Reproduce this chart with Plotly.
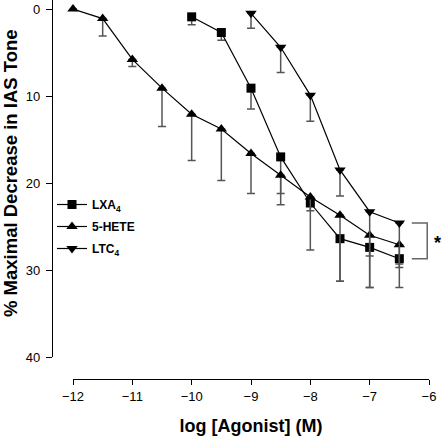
import plotly.graph_objects as go

# ---- data ----
x_lxa4 = [-10, -9.5, -9, -8.5, -8, -7.5, -7, -6.5]
y_lxa4 = [0.9, 2.7, 9.1, 17.0, 22.3, 26.4, 27.4, 28.7]
e_lxa4 = [0.9, 0.9, 2.4, 4.2, 5.4, 4.9, 4.6, 3.3]

x_hete = [-12, -11.5, -11, -10.5, -10, -9.5, -9, -8.5, -8, -7.5, -7, -6.5]
y_hete = [0.0, 1.1, 5.8, 9.1, 12.1, 13.8, 16.6, 19.1, 21.6, 23.7, 26.0, 27.1]
e_hete = [0.0, 2.0, 0.8, 4.4, 5.3, 5.9, 4.6, 3.4, 1.6, 7.6, 6.0, 2.2]

x_ltc4 = [-9, -8.5, -8, -7.5, -7, -6.5]
y_ltc4 = [0.5, 4.4, 9.9, 18.5, 23.3, 24.6]
e_ltc4 = [1.7, 2.9, 3.0, 3.0, 5.1, 5.1]

x_ticks = [-12, -11, -10, -9, -8, -7, -6]
y_ticks = [0, 10, 20, 30, 40]

FONT = "Arial, Liberation Sans, sans-serif"

def trace(x, y, e, name, symbol, size, group):
    return go.Scatter(
        x=x, y=y, name=name, mode="lines+markers",
        legendgroup=group,
        line=dict(color="black", width=1.2),
        marker=dict(symbol=symbol, size=size, color="black"),
        error_y=dict(type="data", symmetric=False, array=e,
                     arrayminus=[0] * len(e), color="#555555",
                     thickness=1.5, width=4),
        cliponaxis=False,
    )

fig = go.Figure()
fig.add_trace(trace(x_lxa4, y_lxa4, e_lxa4, "<b>LXA<sub>4</sub></b>", "square", 9, "a"))
fig.add_trace(trace(x_hete, y_hete, e_hete, "<b>5-HETE</b>", "triangle-up", 10, "b"))
fig.add_trace(trace(x_ltc4, y_ltc4, e_ltc4, "<b>LTC<sub>4</sub></b>", "triangle-down", 10, "c"))

# significance bracket between LTC4 and LXA4 at highest dose
fig.add_shape(type="path",
              path="M -6.29 24.6 L -6.03 24.6 L -6.03 28.7 L -6.29 28.7",
              xref="x", yref="y", line=dict(color="#666666", width=1.5))
fig.add_annotation(x=1.023, y=(379 - 243) / 379, xref="paper", yref="paper",
                   text="<b>*</b>", showarrow=False, xanchor="center", yanchor="middle",
                   font=dict(family=FONT, size=18, color="black"))
# y-axis title as rotated annotation
fig.add_annotation(x=(10 - 52) / 377, y=(379 - 173) / 379, xref="paper", yref="paper",
                   text="<b>% Maximal Decrease in IAS Tone</b>", showarrow=False,
                   textangle=-90, xanchor="center", yanchor="middle",
                   font=dict(family=FONT, size=18.5, color="black"))

fig.update_layout(
    width=444, height=436,
    margin=dict(l=52, r=15, t=0, b=57, autoexpand=False),
    paper_bgcolor="white", plot_bgcolor="white",
    font=dict(family=FONT, size=13, color="black"),
    showlegend=True,
    legend=dict(x=0.0, y=(379 - 190) / 379, xanchor="left", yanchor="top",
                font=dict(family=FONT, size=12, color="black"),
                bgcolor="rgba(0,0,0,0)", traceorder="grouped",
                tracegroupgap=3, itemwidth=30),
    xaxis=dict(
        domain=[21 / 377, 1], range=[-12, -6], anchor="free", position=0,
        automargin=False,
        tickvals=x_ticks, ticks="outside", ticklen=5, tickwidth=1.2,
        tickcolor="black", showline=True, linecolor="black", linewidth=1.2,
        showgrid=False, zeroline=False,
        title=dict(text="<b>log [Agonist] (M)</b>", standoff=26,
                   font=dict(family=FONT, size=18)),
    ),
    yaxis=dict(
        domain=[22 / 379, 1], range=[40, -9 / 8.7], autorange=False,
        anchor="free", position=0, automargin=False,
        tickvals=y_ticks, ticks="outside", ticklen=6, tickwidth=1.2,
        tickcolor="black", showline=True, linecolor="black", linewidth=1.2,
        ticklabelstandoff=3,
        showgrid=False, zeroline=False,
    ),
)

fig.write_html("out.html", post_script="document.body.style.margin='0';",
               config={"displayModeBar": False})
